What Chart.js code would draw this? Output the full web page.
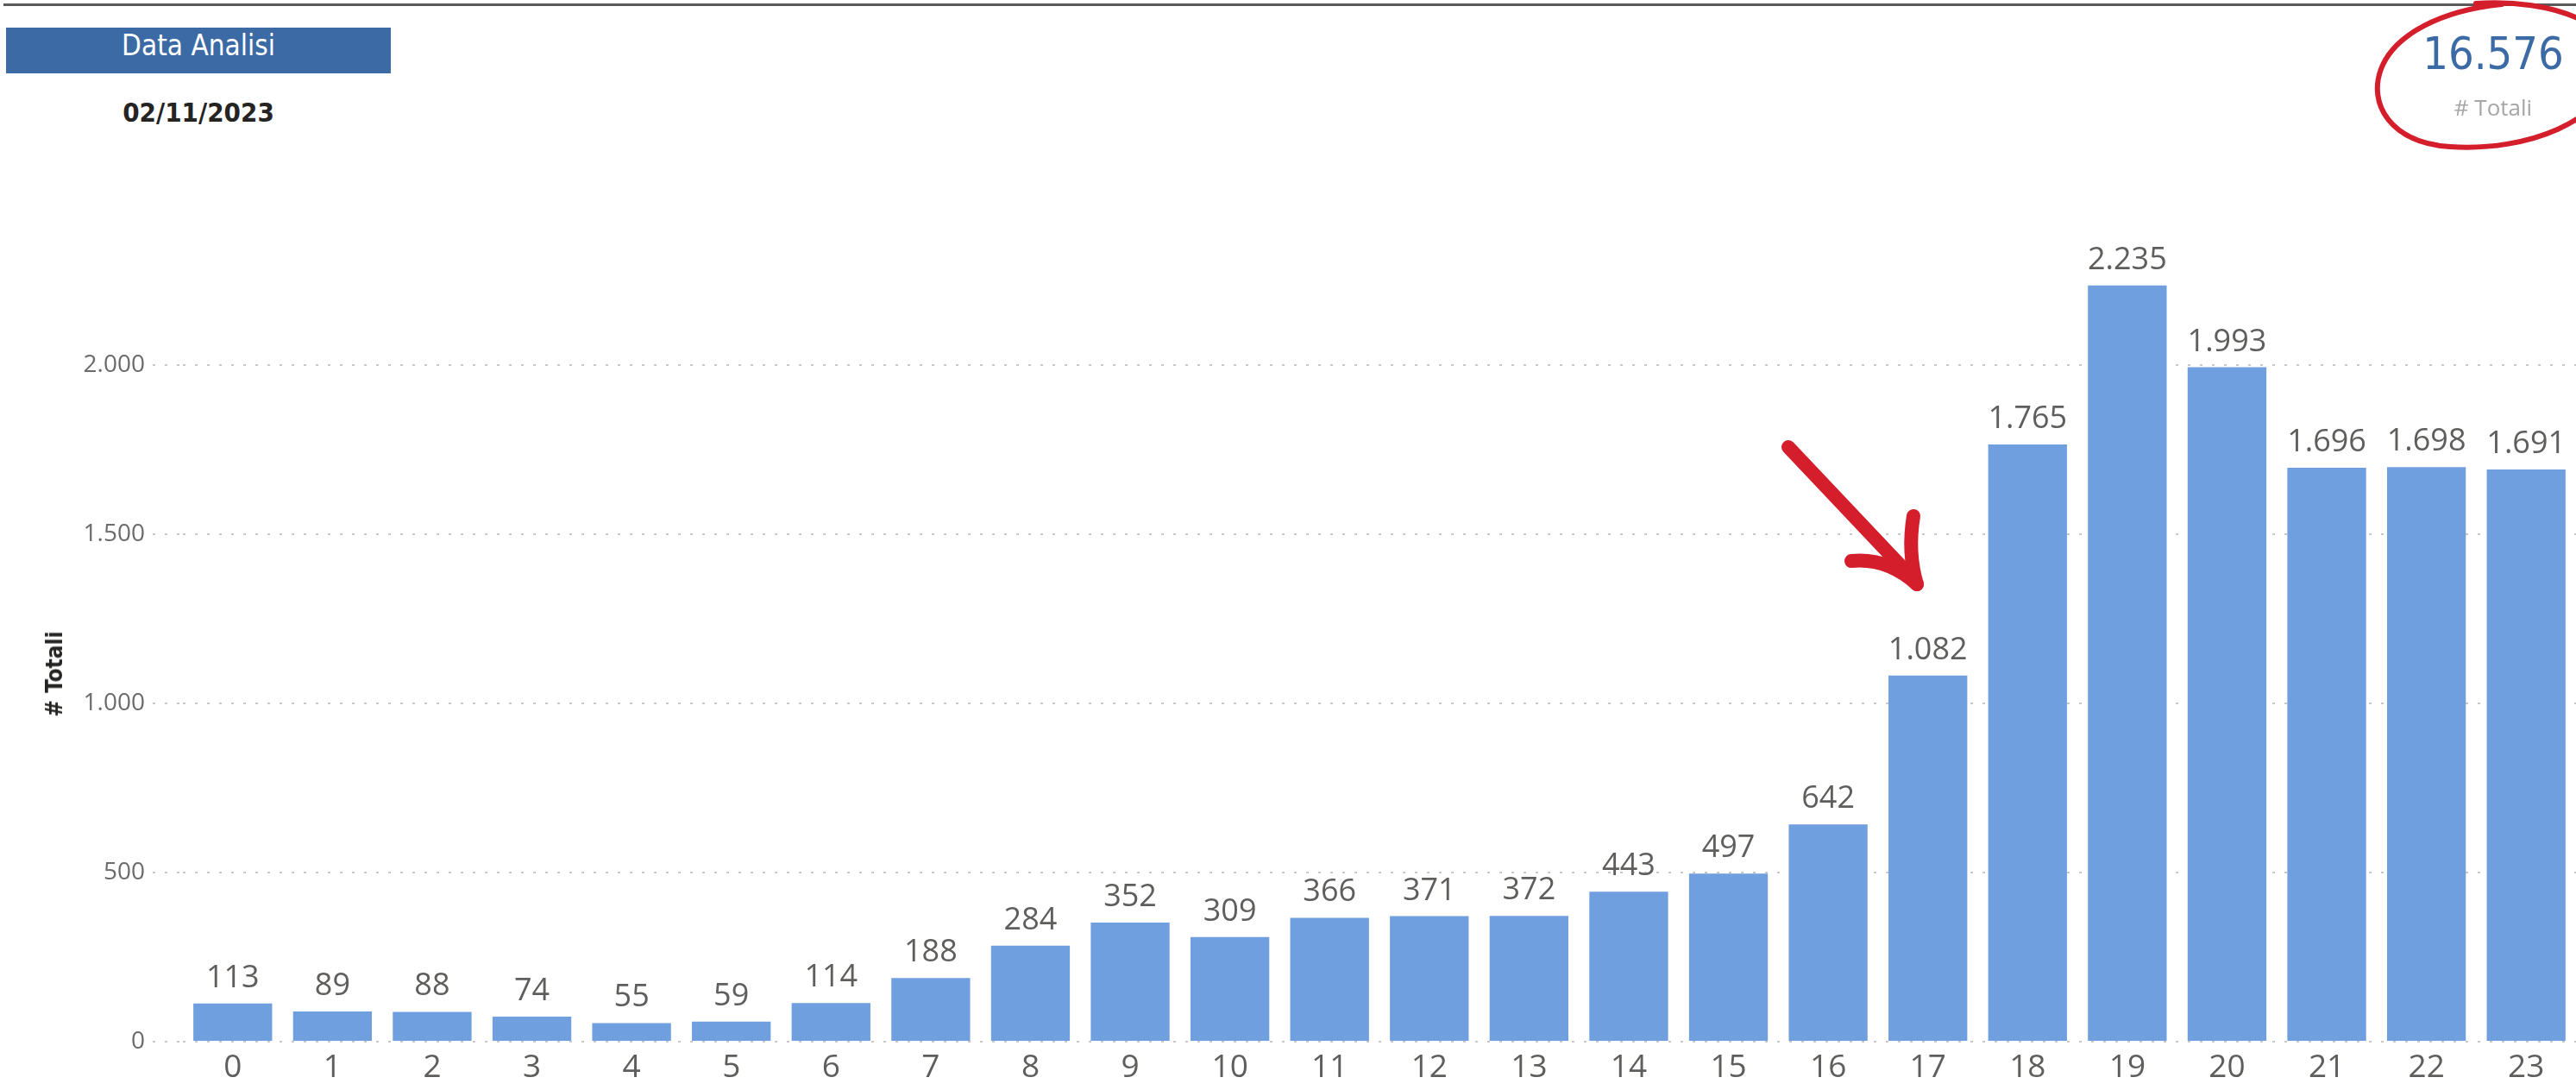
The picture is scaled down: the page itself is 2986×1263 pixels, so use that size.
<!DOCTYPE html>
<html>
<head>
<meta charset="utf-8">
<script src="https://cdn.jsdelivr.net/npm/chart.js@4.4.0/dist/chart.umd.min.js"></script>
<style>
    html, body { margin: 0; padding: 0; background: #fff; }
    body { width: 2986px; height: 1263px; position: relative; overflow: hidden; }
    #topLine { position: absolute; left: 4px; top: 4px; width: 2982px; height: 3px; background: #5a5a5a; }
    #filterBox {
        position: absolute; left: 7px; top: 32px; width: 446px; height: 53px;
        background: #3b6aa5; color: #fff; text-align: center;
        font-family: 'DejaVu Sans Condensed', 'Liberation Sans Narrow', 'Roboto', sans-serif;
        font-stretch: condensed; font-size: 33px; line-height: 42px;
    }
    #filterDate {
        position: absolute; left: 7px; top: 112px; width: 446px; text-align: center;
        font-family: 'DejaVu Sans Condensed', 'Liberation Sans Narrow', 'Roboto', sans-serif;
        font-stretch: condensed; font-weight: bold; font-size: 31px; color: #252423;
    }
    #kpiValue {
        position: absolute; left: 2790px; top: 32px; width: 200px; text-align: center;
        font-family: 'DejaVu Sans Condensed', 'Liberation Sans Narrow', 'Roboto', sans-serif;
        font-stretch: condensed; font-size: 52px; color: #3b6aa5;
    }
    #kpiLabel {
        position: absolute; left: 2790px; top: 106px; width: 200px; text-align: center;
        font-family: 'Open Sans', sans-serif; font-size: 26px; color: #a6a6a6;
    }
    #yTitle {
        position: absolute; left: 63px; top: 781px; transform: translate(-50%, -50%) rotate(-90deg);
        font-family: 'DejaVu Sans Condensed', 'Liberation Sans Narrow', 'Roboto', sans-serif;
        font-stretch: condensed; font-weight: bold; font-size: 26px; color: #252423; white-space: nowrap;
    }
    #chartBox { position: absolute; left: 0; top: 0; width: 2986px; height: 1263px; }
    #marks { position: absolute; left: 0; top: 0; pointer-events: none; }
</style>
</head>
<body>
<div id="topLine"></div>
<div id="filterBox">Data Analisi</div>
<div id="filterDate">02/11/2023</div>
<div id="chartBox"><canvas id="hourChart"></canvas></div>
<div id="yTitle"># Totali</div>
<div id="kpiValue"></div>
<div id="kpiLabel"># Totali</div>
<svg id="marks" width="2986" height="1263">
    <g fill="none" stroke="#d41e2c" stroke-linecap="round" stroke-linejoin="round">
        <path stroke-width="6" d="M 2870 4 C 2960 -2, 3040 30, 3030 80 C 3020 140, 2930 176, 2840 170 C 2770 165, 2745 120, 2760 80 C 2775 40, 2830 12, 2900 5"/>
        <path stroke-width="16" d="M 2073 518 L 2214 667"/>
        <path stroke-width="16" d="M 2146 650 Q 2188 646 2222 677"/>
        <path stroke-width="16" d="M 2218 598 Q 2211 640 2222 677"/>
    </g>
</svg>

<script>
const hours = ['0', '1', '2', '3', '4', '5', '6', '7', '8', '9', '10', '11',
    '12', '13', '14', '15', '16', '17', '18', '19', '20', '21', '22', '23'];
const totals = [113, 89, 88, 74, 55, 59, 114, 188, 284, 352, 309, 366,
    371, 372, 443, 497, 642, 1082, 1765, 2235, 1993, 1696, 1698, 1691];
const yTicks = [0, 500, 1000, 1500, 2000];

// separatore migliaia all'italiana
function formatIt(n) {
    return String(n).replace(/\B(?=(\d{3})+(?!\d))/g, '.');
}

document.getElementById('kpiValue').textContent = formatIt(totals.reduce((a, b) => a + b, 0));

const barLabels = {
    id: 'barLabels',
    afterDatasetsDraw(chart) {
        const ctx = chart.ctx;
        const meta = chart.getDatasetMeta(0);
        ctx.save();
        ctx.font = '36px "Open Sans"';
        ctx.fillStyle = '#605e5c';
        ctx.textAlign = 'center';
        ctx.textBaseline = 'alphabetic';
        meta.data.forEach((bar, i) => {
            ctx.fillText(formatIt(totals[i]), bar.x, bar.y - 19);
        });
        ctx.restore();
    }
};

const ctx = document.getElementById('hourChart').getContext('2d');
const chart = new Chart(ctx, {
    type: 'bar',
    data: {
        labels: hours,
        datasets: [{
            label: '# Totali',
            data: totals,
            backgroundColor: '#6f9fdf',
            borderWidth: 0,
            categoryPercentage: 1,
            barPercentage: 0.79
        }]
    },
    options: {
        responsive: true,
        maintainAspectRatio: false,
        animation: false,
        layout: { padding: { top: 266, right: 0, bottom: 0, left: 0 } },
        scales: {
            x: {
                afterFit: function (scale) {
                    scale.height = 56;
                },
                grid: { display: false, drawTicks: false },
                border: { display: false },
                ticks: {
                    padding: 8,
                    color: '#605e5c',
                    font: { family: 'Open Sans', size: 37 }
                }
            },
            y: {
                min: 0,
                max: 2400,
                afterFit: function (scale) {
                    scale.width = 212;
                },
                afterBuildTicks: function (scale) {
                    scale.ticks = yTicks.map(v => ({ value: v }));
                },
                grid: {
                    color: '#c8c8c8',
                    lineWidth: 2,
                    drawTicks: true,
                    tickLength: 35,
                    tickColor: '#c8c8c8',
                    tickWidth: 2,
                    tickBorderDash: [3, 11]
                },
                border: { display: false, dash: [3, 11] },
                ticks: {
                    padding: 9,
                    color: '#6b6b6b',
                    font: { family: 'Open Sans', size: 28 },
                    callback: function (value) {
                        return formatIt(value);
                    }
                }
            }
        },
        plugins: {
            legend: { display: false },
            tooltip: { enabled: false }
        }
    },
    plugins: [barLabels]
});
</script>
</body>
</html>
